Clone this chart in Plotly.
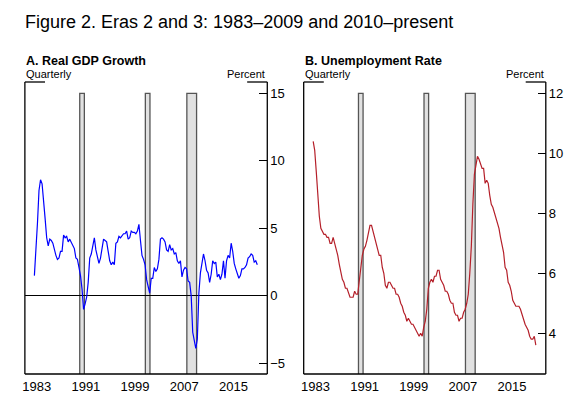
import plotly.graph_objects as go

# quarterly data, 1983Q1 - 2019Q2
start_year = 1983

# real GDP, 4-quarter percent change
gdp_growth = [
    1.5, 3.2, 5.4, 7.8,
    8.6, 8.3, 7.2, 5.7,
    4.3, 3.7, 4.2, 4.1,
    3.9, 3.4, 3.0, 2.7,
    2.8, 3.3, 3.3, 4.5,
    4.3, 4.4, 4.0, 4.2,
    4.0, 3.8, 3.5, 2.8,
    2.7, 2.1, 1.5, 0.5,
    -1.0, -0.6, -0.1, 1.0,
    2.8, 3.1, 3.7, 4.3,
    3.4, 2.8, 2.4, 2.8,
    3.6, 4.2, 4.1, 4.0,
    3.3, 2.6, 2.3, 2.5,
    2.3, 3.9, 4.0, 4.4,
    4.3, 4.5, 4.6, 4.6,
    4.8, 4.2, 4.3, 4.8,
    4.7, 4.7, 4.6, 4.8,
    5.3, 4.1, 3.0, 2.7,
    2.3, 1.2, 0.6, 0.2,
    1.3, 1.3, 2.1, 1.8,
    2.0, 2.7, 4.2, 4.3,
    4.2, 4.0, 3.4, 3.3,
    3.8, 3.4, 3.5, 3.1,
    3.2, 2.6, 2.4, 2.6,
    1.4, 1.9, 2.1, 2.0,
    1.1, 1.0, 0.0, -2.7,
    -3.3, -3.9, -3.2, 0.2,
    1.7, 2.6, 3.1, 2.6,
    1.9, 1.7, 1.0, 1.6,
    2.6, 2.4, 2.5, 1.4,
    1.6, 1.2, 1.6, 2.6,
    1.3, 2.6, 3.0, 2.8,
    3.9, 3.3, 2.4, 2.0,
    1.6, 1.3, 1.5, 2.0,
    2.0, 2.1, 2.3, 2.8,
    2.9, 3.1, 3.0, 2.5,
    2.6, 2.3,
]

# civilian unemployment rate, percent
unemp = [
    10.4, 10.1, 9.4, 8.5,
    7.9, 7.5, 7.4, 7.3,
    7.3, 7.2, 7.2, 7.0,
    7.0, 7.2, 7.0, 6.8,
    6.6, 6.3, 6.0, 5.8,
    5.7, 5.5, 5.5, 5.3,
    5.2, 5.2, 5.2, 5.4,
    5.3, 5.3, 5.7, 6.1,
    6.6, 6.8, 6.9, 7.1,
    7.4, 7.6, 7.6, 7.4,
    7.2, 7.1, 6.8, 6.6,
    6.6, 6.2, 6.0, 5.6,
    5.5, 5.7, 5.7, 5.6,
    5.5, 5.5, 5.3, 5.3,
    5.2, 5.0, 4.9, 4.7,
    4.6, 4.4, 4.5, 4.4,
    4.3, 4.3, 4.2, 4.1,
    4.0, 3.9, 4.0, 3.9,
    4.2, 4.4, 4.8, 5.5,
    5.7, 5.8, 5.7, 5.9,
    5.9, 6.1, 6.1, 5.8,
    5.7, 5.6, 5.4, 5.4,
    5.3, 5.1, 5.0, 5.0,
    4.7, 4.6, 4.6, 4.4,
    4.5, 4.5, 4.7, 4.8,
    5.0, 5.3, 6.0, 6.9,
    8.3, 9.3, 9.6, 9.9,
    9.8, 9.6, 9.5, 9.5,
    9.0, 9.1, 9.0, 8.6,
    8.3, 8.2, 8.0, 7.8,
    7.7, 7.5, 7.2, 6.9,
    6.7, 6.2, 6.1, 5.7,
    5.6, 5.4, 5.1, 5.0,
    4.9, 4.9, 4.9, 4.8,
    4.6, 4.4, 4.3, 4.2,
    4.1, 3.9, 3.8, 3.8,
    3.9, 3.6,
]

# NBER recessions (start, end) in decimal years
recessions = [(1990.5, 1991.25), (2001.17, 2001.92), (2007.92, 2009.5)]

year_labels = ["1983", "1991", "1999", "2007", "2015"]
gdp_ticks = [-5, 0, 5, 10, 15]
ur_ticks = [4, 6, 8, 10, 12]

dates_gdp = [start_year + i / 4 + 0.125 for i in range(len(gdp_growth))]
dates_ur = [start_year + i / 4 + 0.125 for i in range(len(unemp))]

W, H = 564, 405
FONT = "Liberation Sans, Arial, sans-serif"
xrange_ = [1981.58, 2021.0]
dom_a = [22 / W, 265.7 / W]
dom_b = [302.3 / W, 545.7 / W]
ydom = [1 - 374 / H, 1 - 82 / H]

fig = go.Figure()
fig.add_trace(go.Scatter(x=dates_gdp, y=gdp_growth, mode="lines",
                         line=dict(color="#0000ff", width=1.2),
                         xaxis="x", yaxis="y", showlegend=False))
fig.add_trace(go.Scatter(x=dates_ur, y=unemp, mode="lines",
                         line=dict(color="#b5202a", width=1.2),
                         xaxis="x2", yaxis="y2", showlegend=False))

tickfont = dict(family=FONT, size=13, color="black")

def xaxes(dom, anchor):
    # label axis (labels centred mid-year) and tick axis (yearly ticks)
    lab = dict(domain=dom, range=xrange_, anchor=anchor, showgrid=False,
               zeroline=False, showline=False, ticks="", ticklabelstandoff=3,
               tickvals=[int(y) + 0.5 for y in year_labels], ticktext=year_labels,
               tickfont=tickfont)
    tck = dict(domain=dom, range=xrange_, anchor=anchor, showgrid=False,
               zeroline=False, showline=False, ticks="inside", ticklen=7,
               tickwidth=1, tickcolor="black", tickvals=list(range(1983, 2020)),
               showticklabels=False)
    return lab, tck

xa, xa_t = xaxes(dom_a, "y")
xb, xb_t = xaxes(dom_b, "y2")

fig.update_layout(
    width=W, height=H, margin=dict(l=0, r=0, t=0, b=0),
    paper_bgcolor="white", plot_bgcolor="white",
    xaxis=xa, xaxis2=xb,
    xaxis3=dict(xa_t, overlaying="x"),
    xaxis4=dict(xb_t, overlaying="x2"),
    yaxis=dict(domain=ydom, range=[-5.79, 15.84], side="right", anchor="x",
               tickvals=gdp_ticks, ticks="inside", ticklen=8, tickcolor="black",
               showgrid=False, zeroline=True, zerolinecolor="black",
               zerolinewidth=1, showline=False, tickfont=tickfont,
               ticklabelstandoff=2),
    yaxis2=dict(domain=ydom, range=[2.64, 12.38], side="right", anchor="x2",
                tickvals=ur_ticks, ticks="inside", ticklen=8, tickcolor="black",
                showgrid=False, zeroline=False, showline=False, tickfont=tickfont,
                ticklabelstandoff=2),
    yaxis3=dict(domain=ydom, range=[-5.79, 15.84], side="left", overlaying="y",
                anchor="x", tickvals=gdp_ticks, ticks="inside", ticklen=8,
                tickcolor="black", showticklabels=False, showgrid=False,
                zeroline=False),
    yaxis4=dict(domain=ydom, range=[2.64, 12.38], side="left", overlaying="y2",
                anchor="x2", tickvals=ur_ticks, ticks="inside", ticklen=8,
                tickcolor="black", showticklabels=False, showgrid=False,
                zeroline=False),
)

shapes = []
for xr, yr, top in (("x", "y", 15), ("x2", "y2", 12)):
    for s, e in recessions:
        shapes.append(dict(type="rect", xref=xr, yref=yr, x0=s, x1=e,
                           y0=-100, y1=top, fillcolor="#e1e1e1",
                           line=dict(color="#555555", width=1.3), layer="below"))
    # frame: sides, bottom, corner stubs on top
    xd, yd = xr + " domain", yr + " domain"
    ln = dict(color="black", width=1.3)
    for x0, y0, x1, y1 in ((0, 0, 0, 1), (1, 0, 1, 1), (0, 0, 1, 0),
                           (0, 1, 0.083, 1), (0.917, 1, 1, 1)):
        shapes.append(dict(type="line", xref=xd, yref=yd, x0=x0, y0=y0,
                           x1=x1, y1=y1, line=ln))
fig.update_layout(shapes=shapes)

ann = [dict(text="Figure 2. Eras 2 and 3: 1983\u20132009 and 2010\u2013present",
            xref="paper", yref="paper", x=20 / W, y=1 - 22 / H,
            xanchor="left", yanchor="middle", showarrow=False,
            font=dict(family=FONT, size=18, color="black"))]
for dom, title in ((dom_a, "A. Real GDP Growth"), (dom_b, "B. Unemployment Rate")):
    ann.append(dict(text="<b>" + title + "</b>", xref="paper", yref="paper",
                    x=dom[0] - 1 / W, y=1 - 61 / H, xanchor="left", yanchor="middle",
                    showarrow=False, font=dict(family=FONT, size=12.5, color="black")))
    ann.append(dict(text="Quarterly", xref="paper", yref="paper",
                    x=dom[0] - 1 / W, y=1 - 74 / H, xanchor="left", yanchor="middle",
                    showarrow=False, font=dict(family=FONT, size=11, color="black")))
    ann.append(dict(text="Percent", xref="paper", yref="paper",
                    x=dom[1], y=1 - 74 / H, xanchor="right", yanchor="middle",
                    showarrow=False, font=dict(family=FONT, size=11, color="black")))
fig.update_layout(annotations=ann)

# page has a default body margin; drop it so the figure fills the window
fig.write_html("out.html", config={"displayModeBar": False},
               post_script="document.body.style.margin='0';")
